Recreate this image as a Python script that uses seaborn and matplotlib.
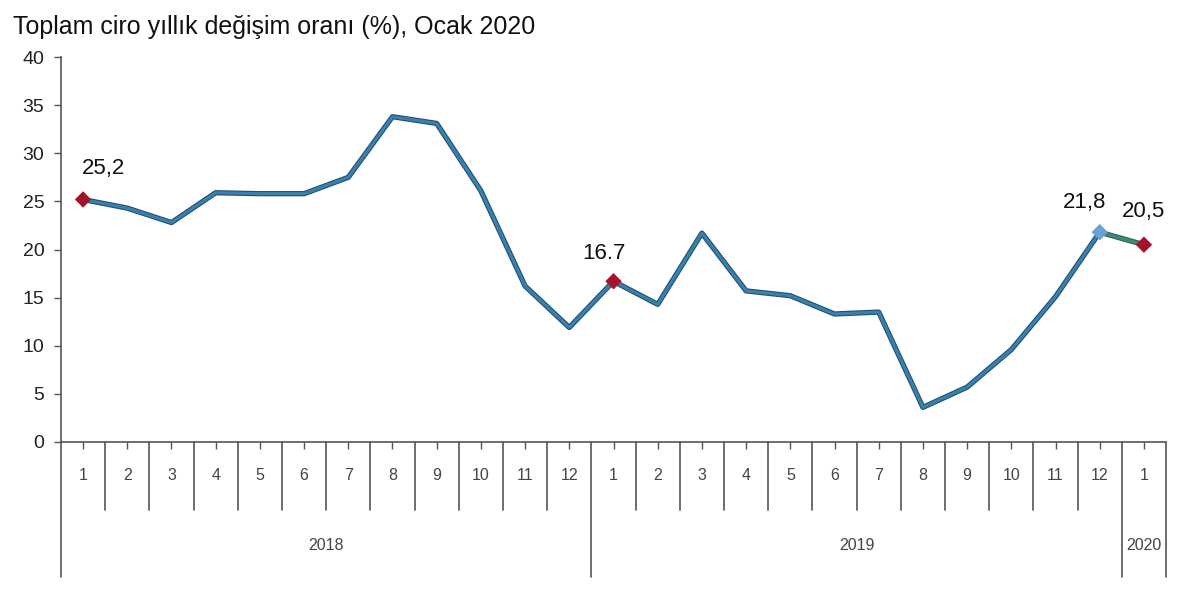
import numpy as np
import pandas as pd
import matplotlib
matplotlib.use("Agg")
import matplotlib.pyplot as plt
import matplotlib.patheffects as pe
import seaborn as sns

# data
months = ["1", "2", "3", "4", "5", "6", "7", "8", "9", "10", "11", "12",
          "1", "2", "3", "4", "5", "6", "7", "8", "9", "10", "11", "12",
          "1"]
years = ["2018"] * 12 + ["2019"] * 12 + ["2020"]
values_2018 = [25.2, 24.3, 22.8, 25.9, 25.8, 25.8, 27.5, 33.8, 33.1, 26.1, 16.2, 11.9]
values_2019 = [16.7, 14.3, 21.7, 15.7, 15.2, 13.3, 13.5, 3.6, 5.7, 9.6, 15.1, 21.8]
values_2020 = [20.5]
values = values_2018 + values_2019 + values_2020

# highlighted points: index, label text
highlight_idx = [0, 12, 23, 24]
highlight_txt = ["25,2", "16.7", "21,8", "20,5"]

df = pd.DataFrame({"pos": np.arange(len(values)), "value": values,
                   "month": months, "year": years})

sns.set_style("white")
plt.rcParams["font.family"] = ["Liberation Sans", "DejaVu Sans"]

fig = plt.figure(figsize=(12, 5.94), dpi=100)
ax = fig.add_axes([0.0508, 0.2559, 0.9209, 0.6481])

line_col = "#3a80ad"
edge_col = "#1f4d6c"
stroke = [pe.Stroke(linewidth=3.8, foreground=edge_col), pe.Normal()]

main = df.iloc[:24]
sns.lineplot(data=main, x="pos", y="value", ax=ax, color=line_col, lw=2.3,
             path_effects=stroke)
last = df.iloc[23:]
sns.lineplot(data=last, x="pos", y="value", ax=ax, color="#3d8a78", lw=2.3,
             path_effects=[pe.Stroke(linewidth=3.8, foreground="#2a5e55"), pe.Normal()])

hl = df.iloc[highlight_idx].copy()
hl["kind"] = ["red", "red", "blue", "red"]
sns.scatterplot(data=hl, x="pos", y="value", hue="kind",
                palette={"red": "#a3142a", "blue": "#6aa3d3"},
                marker="D", s=70, edgecolor="none", legend=False, ax=ax, zorder=5)

offsets = [(20, 31), (-10, 28), (-15, 30), (0, 33)]
for (i, txt), (dx, dy) in zip(zip(highlight_idx, highlight_txt), offsets):
    ax.annotate(txt, (df.pos[i], df.value[i]), xytext=(dx, dy),
                textcoords="offset pixels", ha="center", va="center",
                fontsize=16, color="#111111")

n = len(values)
ax.set_xlim(-0.5, n - 0.5)
ax.set_ylim(0, 40)
ax.set_yticks(range(0, 41, 5))
ax.tick_params(axis="y", labelsize=14, length=5, width=1, color="#555555",
               left=True, pad=7, labelcolor="#222222")
ax.set_xticks(df.pos)
ax.set_xticklabels([])
ax.tick_params(axis="x", length=5, width=1, color="#555555", bottom=True, direction="out")
ax.set_xlabel("")
ax.set_ylabel("")
sns.despine(ax=ax, top=True, right=True)
for s in ["left", "bottom"]:
    ax.spines[s].set_color("#555555")
    ax.spines[s].set_linewidth(1.2)

# category axis below: month labels, separators, year labels
trans = ax.get_xaxis_transform()
ax_h = 0.6481 * 5.94 * 100  # axes height in pixels
def frac(px):
    return -px / ax_h

for p, m in zip(df.pos, df.month):
    ax.text(p, frac(34), m, transform=trans, ha="center", va="center",
            fontsize=11.5, color="#444444")

year_edges = [-0.5]
for k in range(1, n):
    if years[k] != years[k - 1]:
        year_edges.append(k - 0.5)
year_edges.append(n - 0.5)

for k in range(1, n):
    b = k - 0.5
    if b in year_edges:
        continue
    ax.plot([b, b], [0, frac(68)], transform=trans, color="#555555",
            lw=1.2, clip_on=False)
for b in year_edges:
    ax.plot([b, b], [0, frac(135)], transform=trans, color="#555555",
            lw=1.2, clip_on=False)

for a, b in zip(year_edges[:-1], year_edges[1:]):
    ax.text((a + b) / 2, frac(104), years[int(b - 0.5)], transform=trans,
            ha="center", va="center", fontsize=11.5, color="#444444")

fig.text(0.011, 0.955, "Toplam ciro yıllık değişim oranı (%), Ocak 2020",
         fontsize=18, color="#111111", ha="left", va="center")

fig.savefig("out.png", dpi=100, facecolor="white")
